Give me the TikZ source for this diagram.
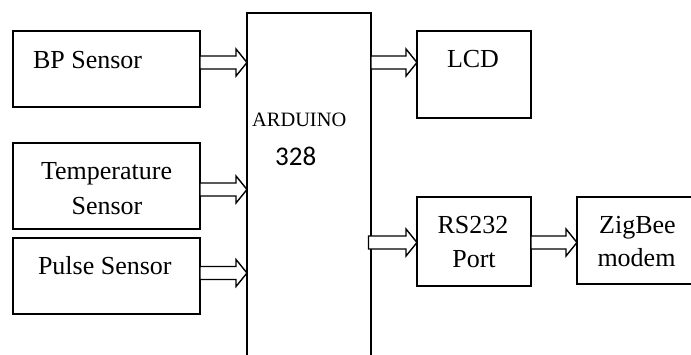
\documentclass[tikz,border=0pt]{standalone}
\usepackage{fontspec}
\setmainfont{Liberation Serif}
\newfontfamily\calfont{Carlito}
\usetikzlibrary{calc}
\tikzset{
  box/.style={draw=black, line width=1.8pt, fill=none, inner sep=0pt, outer sep=0pt, rectangle},
  lbl/.style={inner sep=0pt, outer sep=0pt, font=\fontsize{26}{30}\selectfont},
  arrowbody/.style={draw=black, line width=1.4pt, fill=white, line join=miter},
}
\newcommand{\blockarrow}[2]{%
  \draw[arrowbody] ($(#1)+(0,-6.5)$) -- ($(#2)+(-11,-6.5)$) -- ($(#2)+(-11,-13.5)$) -- (#2)
    -- ($(#2)+(-11,13.5)$) -- ($(#2)+(-11,6.5)$) -- ($(#1)+(0,6.5)$) -- cycle;}
\begin{document}
\begin{tikzpicture}[x=1pt, y=-1pt]
\useasboundingbox (0,0) rectangle (691,354);
\clip (0,0) rectangle (691,354);
% boxes
\node[box, minimum width=187pt, minimum height=76pt] (bp) at (106.5,69) {};
\node[box, minimum width=187pt, minimum height=86pt] (temp) at (106.5,186) {};
\node[box, minimum width=187pt, minimum height=76pt] (pulse) at (106.5,276) {};
\node[box, minimum width=124pt, minimum height=367pt] (ard) at (309,196.5) {};
\node[box, minimum width=114pt, minimum height=87pt] (lcd) at (474,74.5) {};
\node[box, minimum width=114pt, minimum height=89pt] (rs) at (474,241.5) {};
\node[box, minimum width=143pt, minimum height=87pt] (zig) at (648.5,240.5) {};
% texts
\node[lbl, anchor=base west] (tbp) at (33,68) {BP Sensor};
\node[lbl, anchor=base] (ttemp1) at (106.5,179) {Temperature};
\node[lbl, anchor=base] (ttemp2) at (107,214) {Sensor};
\node[lbl, anchor=base west] (tpulse) at (38,274) {Pulse Sensor};
\node[inner sep=0pt, anchor=base west, font=\fontsize{20.4}{24}\selectfont] (tard) at (252,126) {ARDUINO};
\node[inner sep=0pt, anchor=base west, font=\calfont\fontsize{27}{30}\selectfont] (t328) at (275,165) {328};
\node[lbl, anchor=base west] (tlcd) at (447,67) {LCD};
\node[lbl, anchor=base] (trs1) at (473,233) {RS232};
\node[lbl, anchor=base] (trs2) at (474,267) {Port};
\node[lbl, anchor=base] (tzig1) at (637.5,233) {ZigBee};
\node[lbl, anchor=base] (tzig2) at (636.5,266) {modem};
% arrow end points
\coordinate (a1s) at (bp.east |- 0,62.5);
\coordinate (a1t) at (ard.west |- 0,62.5);
\coordinate (a2s) at (temp.east |- 0,189.5);
\coordinate (a2t) at (ard.west |- 0,189.5);
\coordinate (a3s) at (pulse.east |- 0,273);
\coordinate (a3t) at (ard.west |- 0,273);
\coordinate (a4s) at (ard.east |- 0,62.5);
\coordinate (a4t) at (lcd.west |- 0,62.5);
\coordinate (a5s) at ($(ard.east |- 0,242.5)+(-2.5,0)$);
\coordinate (a5t) at (rs.west |- 0,242.5);
\coordinate (a6s) at (rs.east |- 0,242.5);
\coordinate (a6t) at (zig.west |- 0,242.5);
\blockarrow{a1s}{a1t}
\blockarrow{a2s}{a2t}
\blockarrow{a3s}{a3t}
\blockarrow{a4s}{a4t}
\blockarrow{a5s}{a5t}
\blockarrow{a6s}{a6t}
\end{tikzpicture}
\end{document}
